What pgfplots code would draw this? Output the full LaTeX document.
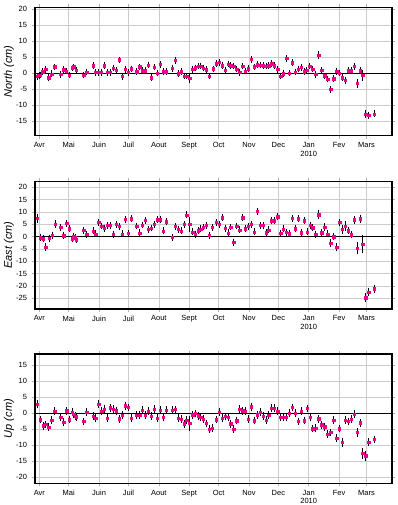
\documentclass[border=0pt]{standalone}
\usepackage{pgfplots}
\usepackage{pgfplotstable}
\pgfplotsset{compat=1.18}
\usepackage{fontspec}
\setmainfont{Liberation Sans}

\pgfplotstableread{
d v e
-2.3 -1.1 0.7
-0.6 -0.8 0.7
1.0 -0.6 0.7
3.4 0.4 0.7
6.5 1.1 0.8
9.5 -1.5 0.8
12.6 -0.3 0.8
15.7 1.9 0.7
21.8 -0.5 0.7
24.8 1.0 0.7
27.6 0.6 0.7
30.6 -0.6 0.7
33.7 1.6 0.7
35.0 1.9 0.7
37.4 0.8 0.7
45.2 -0.6 0.7
48.3 0.3 0.7
54.8 2.3 0.8
57.5 0.2 0.7
60.2 0.2 0.7
63.3 0.2 0.7
66.3 2.3 0.8
69.4 0.2 0.7
72.4 0.2 0.7
75.5 1.5 0.7
78.6 0.8 0.7
81.6 4.1 0.7
84.7 -1.1 0.7
87.8 1.1 0.7
90.5 0.2 0.7
93.5 1.3 0.7
99.3 0.4 0.7
102.4 1.9 0.7
105.1 0.7 0.7
108.2 0.7 0.7
111.2 2.5 0.7
114.3 -1.5 0.7
117.3 1.8 0.7
120.4 0.0 0.7
123.5 2.7 0.7
126.5 0.4 0.7
129.3 0.4 0.7
135.7 1.5 0.8
138.8 3.9 0.8
141.8 -0.2 0.7
144.6 0.4 0.7
147.6 -1.0 0.7
150.3 -1.0 0.7
153.4 -1.7 1.2
156.5 1.2 0.8
159.2 1.6 0.7
162.2 2.1 0.7
164.6 2.2 0.7
167.3 1.5 0.7
170.4 1.0 0.7
173.6 -1.0 0.7
177.2 1.3 0.7
180.3 2.9 0.7
183.4 3.3 0.7
186.4 2.3 0.7
189.5 0.8 0.7
192.5 2.8 0.7
195.2 2.3 0.7
198.3 2.2 0.7
201.4 1.25 0.7
204.4 0.2 0.7
207.5 2.1 0.7
210.2 0.6 0.7
213.3 1.35 0.7
216.4 4.3 0.8
219.4 1.9 0.7
222.5 2.6 0.7
225.2 2.4 0.7
228.3 2.3 0.7
231.3 2.1 0.7
234.1 2.3 0.7
237.1 2.9 0.7
239.8 2.3 0.7
243.2 1.1 0.7
246.3 -1.0 0.7
249.0 -0.2 0.7
252.4 4.5 0.8
255.1 -0.1 0.7
258.2 3.2 0.7
261.2 0.3 0.7
264.0 1.25 0.7
267.0 1.7 0.7
270.1 0.4 0.7
272.8 0.9 0.7
275.9 2.2 0.7
279.0 1.25 0.7
282.0 -0.5 0.7
285.1 5.5 0.9
288.2 0.8 0.8
291.2 -0.9 0.7
294.3 -1.9 0.7
297.3 -5.1 0.8
300.4 -1.8 0.7
303.4 0.5 0.8
306.2 0.0 0.7
309.5 -1.5 0.8
311.9 -2.3 0.8
315.3 0.7 0.7
318.1 0.7 0.7
321.1 2.1 0.8
324.2 -3.3 1.0
327.2 0.7 0.8
330.0 -0.8 1.5
333.0 -12.8 1.0
336.1 -13.2 0.8
341.8 -12.8 0.8
}\north

\pgfplotstableread{
d v e
-2.0 7.4 1.3
1.0 -0.4 1.1
3.7 -0.8 1.1
6.5 -4.2 1.1
9.9 -0.7 1.1
12.9 0.5 1.1
16.0 5.1 1.1
21.8 3.8 1.1
24.8 0.4 1.0
27.9 5.3 1.0
30.6 3.2 1.0
33.7 -0.9 1.0
35.0 0.0 1.0
36.7 -0.4 1.0
38.0 -1.2 1.0
45.2 2.6 1.0
48.3 0.9 1.0
54.8 2.3 1.0
57.5 1.1 1.0
60.5 5.8 1.0
63.6 4.3 1.0
66.3 3.4 1.0
69.0 4.5 1.0
72.1 4.5 1.0
75.5 0.9 1.0
78.6 4.9 1.0
81.6 4.1 1.0
84.7 1.1 1.0
87.8 7.0 1.0
90.5 1.35 1.0
93.5 7.3 1.0
99.3 4.3 1.0
102.4 1.5 1.0
105.1 4.7 1.0
108.2 6.6 1.0
111.2 3.0 1.0
114.3 3.5 1.0
117.3 5.0 1.0
120.4 6.8 1.0
123.5 6.9 1.0
126.5 2.3 1.0
129.3 6.1 1.0
135.7 -0.3 1.0
138.8 4.1 1.0
141.8 3.0 1.0
144.6 2.3 1.0
147.6 4.9 1.0
150.3 8.8 1.0
153.4 4.9 2.5
156.5 1.9 1.0
159.2 0.9 1.0
162.2 2.4 1.0
164.6 3.1 1.0
167.3 3.9 1.0
170.4 4.6 1.0
173.6 0.5 1.0
176.7 3.8 1.0
180.3 5.9 1.0
183.4 5.0 1.0
186.4 7.7 1.0
189.5 3.4 1.0
192.5 1.5 1.0
195.2 3.9 1.0
198.3 -2.2 1.0
201.4 4.3 1.0
204.4 2.7 1.0
207.5 7.6 1.0
210.2 3.2 1.0
213.3 4.1 1.0
216.4 5.0 1.0
219.4 1.9 1.0
222.5 10.3 1.0
225.2 4.6 1.0
228.3 4.5 1.0
231.3 1.6 1.0
234.1 2.7 1.0
237.1 6.5 1.0
239.8 6.5 1.0
243.2 8.1 1.0
246.3 1.35 1.0
249.0 3.1 1.0
252.0 1.8 1.0
255.1 1.2 1.0
258.2 7.4 1.0
261.2 3.2 1.0
264.3 7.2 1.0
267.3 1.6 1.0
270.4 6.5 1.0
273.1 1.9 1.0
276.2 4.6 1.0
278.9 3.6 1.0
282.0 0.9 1.0
285.1 8.9 1.5
288.2 1.6 1.0
291.2 3.8 1.2
294.3 1.1 1.0
297.3 -2.6 1.2
300.4 0.0 1.0
303.4 -4.2 1.1
306.5 5.8 1.0
309.5 3.0 1.5
312.3 4.3 1.5
315.3 2.4 1.0
318.4 0.8 1.0
321.5 6.8 1.2
324.2 -4.7 2.0
327.3 7.2 1.3
330.0 -3.1 3.3
333.0 -24.7 1.5
336.1 -22.4 1.3
341.8 -21.1 1.2
}\east

\pgfplotstableread{
d v e
-2.0 2.8 1.0
1.0 -2.0 0.9
3.7 -3.9 0.9
6.5 -3.5 0.9
9.5 -4.3 0.9
12.6 -2.2 0.9
15.7 0.7 0.9
21.8 -1.35 0.9
24.8 -2.8 0.9
27.9 0.8 0.9
30.6 -2.0 0.9
33.7 0.3 0.9
35.0 -0.4 0.9
36.7 -0.9 0.9
38.0 -1.1 0.9
45.2 -2.6 0.9
48.3 0.3 0.9
54.8 -0.9 0.9
57.5 -1.6 0.9
60.5 2.8 0.9
63.6 0.6 0.9
66.3 1.25 0.9
69.4 -1.5 0.9
72.4 1.7 0.9
75.5 1.25 0.9
78.6 0.8 0.9
81.6 -1.7 0.9
84.7 -0.6 0.9
87.8 2.3 0.9
90.5 1.8 0.9
93.5 -1.5 0.9
99.3 -0.6 0.9
102.4 -0.6 0.9
105.1 1.0 0.9
108.2 -0.6 0.9
111.2 0.7 0.9
114.3 -0.9 0.9
117.3 1.35 0.9
120.4 -1.5 0.9
123.5 1.0 0.9
126.5 -1.35 0.9
129.3 1.0 0.9
135.7 1.0 0.9
138.8 1.15 0.9
141.8 -1.6 0.9
144.6 -1.9 0.9
147.6 -3.3 0.9
150.3 -2.2 0.9
153.4 -3.2 2.0
156.5 -0.5 0.9
159.2 -0.1 0.9
162.2 -0.8 0.9
164.6 -1.35 0.9
167.3 -1.8 0.9
170.4 -3.2 0.9
173.6 -5.0 0.9
176.7 -4.6 0.9
180.3 -2.0 0.9
183.4 0.4 0.9
186.4 -1.5 0.9
189.5 -1.0 0.9
192.5 -1.35 0.9
195.2 -3.3 0.9
198.3 -4.9 0.9
201.4 -2.3 0.9
204.4 1.25 0.9
207.5 0.8 0.9
210.2 0.7 0.9
213.3 -1.9 0.9
216.4 2.0 0.9
219.4 -2.3 0.9
222.5 -0.5 0.9
225.2 0.4 0.9
228.3 -0.9 0.9
231.3 -2.1 0.9
234.1 -0.6 0.9
237.1 1.6 0.9
239.8 1.6 0.9
243.2 0.7 0.9
246.3 -1.35 0.9
249.0 -1.35 0.9
252.0 -1.35 0.9
255.1 0.1 0.9
258.2 1.8 0.9
261.2 0.0 0.9
264.3 -2.6 0.9
267.3 0.7 0.9
270.4 -2.3 0.9
273.1 1.5 0.9
276.2 -1.35 0.9
278.9 -4.8 0.9
282.0 -4.6 0.9
285.1 -1.7 0.9
288.2 -3.6 0.9
291.2 -4.2 0.9
294.3 -6.6 0.9
297.3 -6.0 0.9
300.4 -2.2 0.9
303.4 -7.7 1.0
306.2 -4.8 0.9
309.5 -9.1 1.0
311.9 -2.2 0.9
315.3 -2.6 0.9
318.1 -1.8 0.9
321.1 -0.3 0.9
324.2 -6.0 1.0
327.2 -3.0 1.0
330.0 -12.6 1.5
333.0 -13.3 1.2
336.1 -9.0 1.0
341.8 -8.2 0.9
}\up

\pgfplotsset{
  gpsbase/.style={scale only axis, width=357pt, anchor=south west,
    xmin=-4.4, xmax=360},
  gps/.style={gpsbase,
    xtick={0,30,61,91,122,153,183,214,244,275,306,334},
    xticklabels={Avr,Mai,Juin,Juil,Aout,Sept,Oct,Nov,Dec,{Jan\\2010},Fev,Mars},
    xticklabel style={align=center, inner sep=1pt, yshift=-2.5pt},
    yticklabel style={xshift=-1.5pt},
    grid=major, major grid style={gray!40, line width=0.6pt},
    axis line style={line width=1.1pt, black},
    tick align=outside, major tick length=3pt,
    tick style={gray!60, line width=0.6pt},
    ticklabel style={font=\fontsize{7.5}{8.5}\selectfont},
    /pgf/number format/assume math mode=true,
    ylabel style={font=\fontsize{11}{12}\selectfont\itshape, at={(axis description cs:-0.073,0.5)}, anchor=center},
    extra y ticks={0}, extra y tick labels={},
    extra y tick style={grid=major, major grid style={black, line width=0.7pt}, major tick length=0pt},
  },
  gpsover/.style={gpsbase, hide axis},
  gpserr/.style={draw=none, mark=none, forget plot,
    error bars/.cd, y dir=both, y explicit,
    error bar style={black, line width=0.4pt},
    error mark options={black, mark size=1.0pt, line width=0.4pt}},
  gpsmark/.style={only marks, mark=square*, mark size=1.15pt, color=magenta,
    mark options={draw=magenta, fill=magenta}},
}

\begin{document}
\begin{tikzpicture}
\useasboundingbox (0,0) rectangle (397pt,505pt);
% North
\begin{axis}[gps, at={(35pt,369.3pt)}, height=128.4pt,
  ymin=-19.6, ymax=20.5, ytick={-15,-10,...,20}, ylabel={North (cm)}]
\addplot[gpserr] table[x=d, y=v, y error=e] {\north};
\end{axis}
\begin{axis}[gpsover, at={(35pt,369.3pt)}, height=128.4pt, ymin=-19.6, ymax=20.5]
\addplot[gpsmark] table[x=d, y=v] {\north};
\end{axis}
% East
\begin{axis}[gps, at={(35pt,196pt)}, height=127.7pt,
  ymin=-29.3, ymax=22.4, ytick={-25,-20,...,20}, ylabel={East (cm)}]
\addplot[gpserr] table[x=d, y=v, y error=e] {\east};
\end{axis}
\begin{axis}[gpsover, at={(35pt,196pt)}, height=127.7pt, ymin=-29.3, ymax=22.4]
\addplot[gpsmark] table[x=d, y=v] {\east};
\end{axis}
% Up
\begin{axis}[gps, at={(35pt,21.7pt)}, height=129.3pt,
  ymin=-21.9, ymax=18.5, ytick={-20,-15,...,15}, ylabel={Up (cm)}]
\addplot[gpserr] table[x=d, y=v, y error=e] {\up};
\end{axis}
\begin{axis}[gpsover, at={(35pt,21.7pt)}, height=129.3pt, ymin=-21.9, ymax=18.5]
\addplot[gpsmark] table[x=d, y=v] {\up};
\end{axis}
\end{tikzpicture}
\end{document}
